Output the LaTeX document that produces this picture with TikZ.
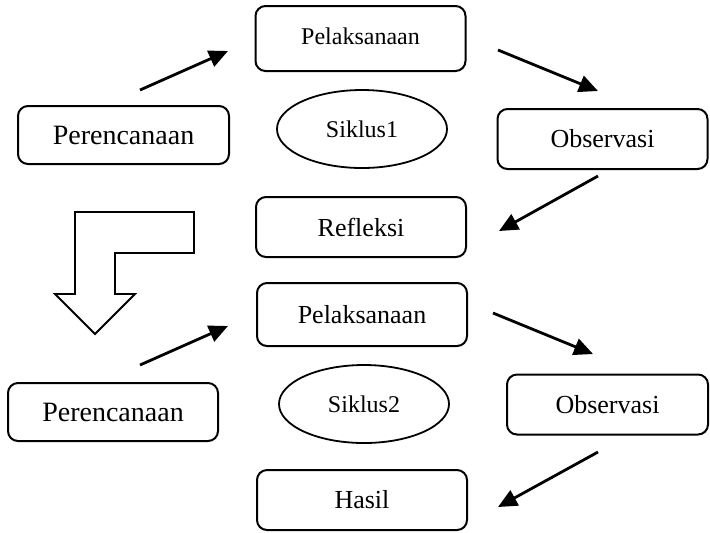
\documentclass[tikz,border=0pt]{standalone}
\usepackage{fontspec}
\setmainfont{Liberation Serif}
\usetikzlibrary{shapes.geometric}
\usetikzlibrary{arrows.meta}

\begin{document}
\begin{tikzpicture}[x=0.5pt, y=-0.5pt,
    stage/.style={draw, line width=1pt, rounded corners=5pt, inner sep=0pt,
        minimum width=105pt, minimum height=30pt, font=\fontsize{13}{15}\selectfont},
    siklus/.style={draw, ellipse, line width=0.9pt, inner sep=0pt,
        minimum width=85pt, minimum height=39pt, font=\fontsize{12}{14}\selectfont},
    flow/.style={-{Triangle[length=9.5pt,width=8.5pt]}, line width=1.4pt}]
        \useasboundingbox (0,0) rectangle (710,532);

        % siklus 1
        \node[stage, minimum height=32.5pt, font=\fontsize{12}{14}\selectfont] (Pelaksanaan1) at (360.5,38.5) {\raisebox{2pt}{Pelaksanaan}};
        \node[stage, minimum width=105.5pt, minimum height=29pt, font=\fontsize{14}{16}\selectfont] (Perencanaan1) at (123.5,135) {Perencanaan};
        \node[siklus] (Siklus1) at (362,129) {Siklus1};
        \node[stage] (Observasi1) at (602.5,139) {Observasi};
        \node[stage] (Refleksi) at (361,227) {Refleksi};

        % siklus 2
        \node[stage, minimum height=31.5pt] (Pelaksanaan2) at (362,314.5) {Pelaksanaan};
        \node[stage, minimum height=29pt, font=\fontsize{14}{16}\selectfont] (Perencanaan2) at (113,412) {Perencanaan};
        \node[siklus] (Siklus2) at (364,404) {Siklus2};
        \node[stage, minimum width=100.5pt] (Observasi2) at (607.5,404.5) {Observasi};
        \node[stage] (Hasil) at (362,500) {Hasil};

        \coordinate (per1out) at (140,90);
        \coordinate (pel1in) at (228,51);
        \coordinate (pel1out) at (498,50);
        \coordinate (obs1in) at (598,91);
        \coordinate (obs1out) at (598,176);
        \coordinate (refin) at (499,231);
        \coordinate (per2out) at (140,365);
        \coordinate (pel2in) at (228,326);
        \coordinate (pel2out) at (493,313);
        \coordinate (obs2in) at (593,354);
        \coordinate (obs2out) at (598,452);
        \coordinate (hasilin) at (498,507);

        \draw [flow] (per1out) -- (pel1in);
        \draw [flow] (pel1out) -- (obs1in);
        \draw [flow] (obs1out) -- (refin);
        \draw [flow] (per2out) -- (pel2in);
        \draw [flow] (pel2out) -- (obs2in);
        \draw [flow] (obs2out) -- (hasilin);

        % panah ke siklus 2
        \draw [line width=0.9pt] (75,212) -- (194,212) -- (194,253) -- (115,253) -- (115,294)
            -- (135,294) -- (95,334) -- (55,294) -- (75,294) -- cycle;

    \end{tikzpicture}
\end{document}
